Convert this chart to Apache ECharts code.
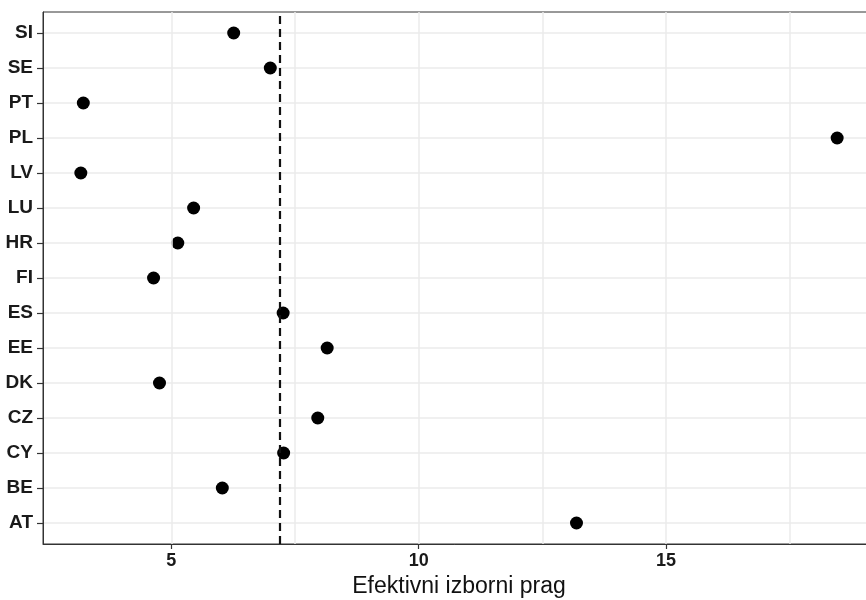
<!DOCTYPE html>
<html>
<head>
<meta charset="utf-8">
<script src="https://cdn.jsdelivr.net/npm/echarts@6/dist/echarts.min.js"></script>
<style>html,body{margin:0;padding:0;background:#fff}#c{width:866px;height:600px}</style>
</head>
<body>
<div id="c"></div>
<script>
// Categories bottom -> top
const categories = ['AT','BE','CY','CZ','DK','EE','ES','FI','HR','LU','LV','PL','PT','SE','SI'];
const values     = [13.19, 6.03, 7.27, 7.96, 4.76, 8.15, 7.26, 4.64, 5.13, 5.45, 3.17, 18.46, 3.22, 7.00, 6.26];
const xTicks = [5, 10, 15];
const xGridLines = [5, 7.5, 10, 12.5, 15, 17.5];
const thresholdValue = 7.2;
const xTitle = 'Efektivni izborni prag';

const catIdx = categories.map((_, i) => i);
const chart = echarts.init(document.getElementById('c'), null, {renderer: 'canvas'});
const font = 'Liberation Sans, Arial, Helvetica, sans-serif';

chart.setOption({
  animation: false,
  backgroundColor: '#fff',
  grid: {left: 43, top: 12, width: 832, height: 532, containLabel: false, outerBoundsMode: 'none',
         show: true, borderColor: '#333', borderWidth: 1, backgroundColor: 'transparent'},
  xAxis: {
    type: 'value', min: 2.405, max: 19.225,
    name: xTitle, nameLocation: 'middle', nameGap: 31,
    nameTextStyle: {fontFamily: font, fontSize: 23, color: '#111'},
    axisLine: {show: true, onZero: false, lineStyle: {color: '#333', width: 1}},
    axisTick: {show: true, length: 5, customValues: xTicks, lineStyle: {color: '#333', width: 1.2}},
    axisLabel: {customValues: xTicks, fontFamily: font, fontSize: 18, fontWeight: 'bold', color: '#1a1a1a', margin: 8},
    splitLine: {show: false}
  },
  yAxis: {
    type: 'value', min: -0.6, max: 14.6,
    axisLine: {show: true, onZero: false, lineStyle: {color: '#333', width: 1}},
    axisTick: {show: true, length: 6, customValues: catIdx, lineStyle: {color: '#333', width: 1.2}},
    axisLabel: {customValues: catIdx, formatter: v => categories[Math.round(v)], fontFamily: font, fontSize: 19, fontWeight: 'bold', color: '#1a1a1a', margin: 10},
    splitLine: {show: true, lineStyle: {color: '#ebebeb', width: 1.5}}
  },
  series: [
    {
      type: 'scatter', symbolSize: 0, data: [], silent: true, z: 1,
      markLine: {
        silent: true, symbol: 'none', animation: false,
        label: {show: false},
        lineStyle: {color: '#ebebeb', width: 1.5, type: 'solid'},
        data: xGridLines.map(x => ({xAxis: x}))
      }
    },
    {
      type: 'scatter', z: 3,
      symbol: 'circle', symbolSize: 13,
      itemStyle: {color: '#000', opacity: 1},
      data: values.map((v, i) => [v, i])
    },
    {
      type: 'scatter', symbolSize: 0, data: [], silent: true, z: 2,
      markLine: {
        silent: true, symbol: 'none', animation: false,
        label: {show: false},
        lineStyle: {color: '#111', width: 2.2, type: [8, 5]},
        data: [{xAxis: thresholdValue}]
      }
    }
  ]
});
</script>
</body>
</html>
